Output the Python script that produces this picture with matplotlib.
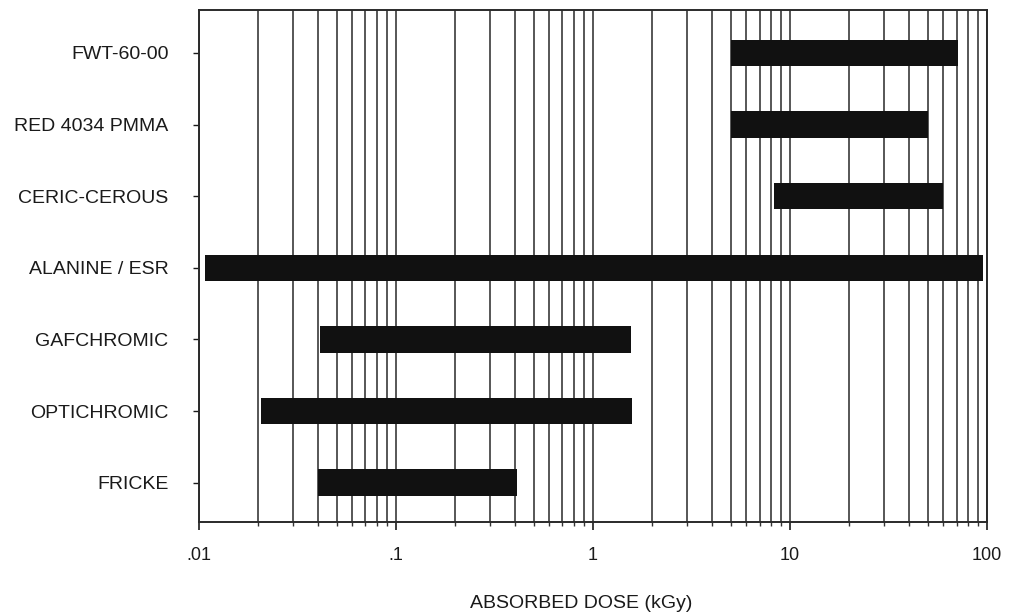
#!/usr/bin/env python3

import matplotlib
matplotlib.use('Agg')
import matplotlib.pyplot as plt
import matplotlib.ticker as ticker
import numpy as np

plt.rc('font', family=['Liberation Sans', 'DejaVu Sans'], size=14)

dosimeters = ['FWT-60-00', 'RED 4034 PMMA', 'CERIC-CEROUS', 'ALANINE / ESR',
              'GAFCHROMIC', 'OPTICHROMIC', 'FRICKE']
dose_low = [5, 5, 8.3, 0.0107, 0.041, 0.0207, 0.040]
dose_high = [71, 50, 60, 95, 1.56, 1.58, 0.41]

tick_vals = [0.01, 0.1, 1, 10, 100]
tick_labels = ['.01', '.1', '1', '10', '100']

fig = plt.figure(figsize=(10.11, 6.16), dpi=100)
ax = fig.add_axes([0.1968, 0.1526, 0.9763 - 0.1968, 0.9838 - 0.1526])

y = np.arange(len(dosimeters))
widths = [h - l for l, h in zip(dose_low, dose_high)]
ax.barh(y, widths, left=dose_low, height=0.37, color='#111111', zorder=3)

ax.set_xscale('log')
ax.set_xlim(0.01, 100)
ax.set_ylim(len(dosimeters) - 0.45, -0.6)

ax.xaxis.set_major_locator(ticker.FixedLocator(tick_vals))
ax.xaxis.set_major_formatter(ticker.FixedFormatter(tick_labels))
ax.xaxis.set_minor_locator(ticker.LogLocator(base=10, subs=np.arange(2, 10)))
ax.xaxis.set_minor_formatter(ticker.NullFormatter())

ax.set_yticks(y)
ax.set_yticklabels(dosimeters, color='#1a1a1a')
for lab in ax.get_yticklabels():
    lab.set_y(lab.get_position()[1])

ax.grid(which='both', axis='x', color='#3a3a3a', linewidth=1.2, zorder=1)
ax.set_axisbelow(True)

ax.tick_params(axis='x', which='major', length=6, width=1.2, pad=12, colors='#1a1a1a', labelsize=13)
ax.tick_params(axis='x', which='minor', length=3, width=1.0, colors='#333333')
ax.tick_params(axis='y', which='major', length=4, width=1.0, pad=18, colors='#1a1a1a')

for sp in ax.spines.values():
    sp.set_color('#2a2a2a')
    sp.set_linewidth(1.4)

ax.set_xlabel('ABSORBED DOSE (kGy)', color='#1a1a1a')
ax.xaxis.set_label_coords(0.485, -0.142)

plt.savefig('out.png', dpi=100)
